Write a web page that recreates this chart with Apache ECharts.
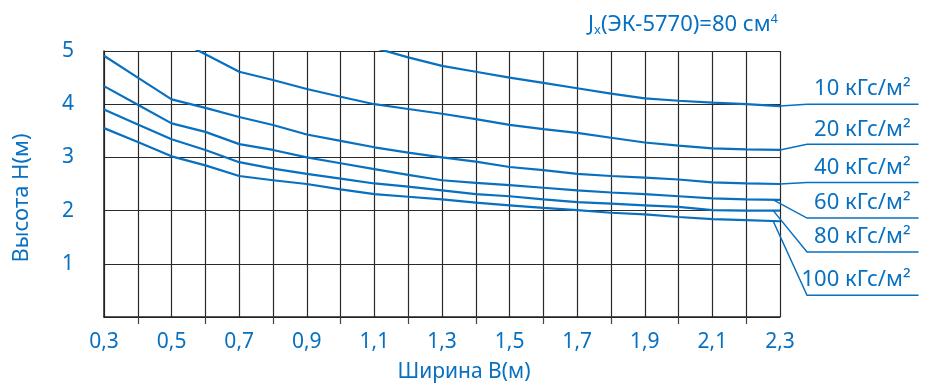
<!DOCTYPE html>
<html>
<head>
<meta charset="utf-8">
<script src="https://cdn.jsdelivr.net/npm/echarts@6/dist/echarts.min.js"></script>
<style>
  html, body { margin: 0; padding: 0; background: #fff; }
  #chart { width: 927px; height: 385px; }
</style>
</head>
<body>
<div id="chart"></div>
<script type="application/javascript">
// ширина B (м)
const widths = [0.3, 0.4, 0.5, 0.6, 0.7, 0.8, 0.9, 1.0, 1.1, 1.2, 1.3, 1.4, 1.5, 1.6, 1.7, 1.8, 1.9, 2.0, 2.1, 2.2, 2.3];
// высота H (м) для каждой нагрузки
const h10  = [null, null, null, null, null, null, null, null, 5.06, 4.88, 4.72, 4.61, 4.50, 4.40, 4.30, 4.20, 4.11, 4.065, 4.03, 4.00, 3.965];
const h20  = [null, null, 5.26, 4.94, 4.61, 4.455, 4.285, 4.14, 4.00, 3.91, 3.82, 3.72, 3.61, 3.53, 3.46, 3.37, 3.28, 3.22, 3.17, 3.15, 3.14];
const h40  = [4.91, 4.50, 4.09, 3.93, 3.76, 3.61, 3.43, 3.31, 3.19, 3.09, 3.00, 2.92, 2.82, 2.76, 2.69, 2.65, 2.62, 2.585, 2.53, 2.51, 2.50];
const h60  = [4.34, 3.99, 3.64, 3.48, 3.25, 3.14, 3.00, 2.89, 2.78, 2.67, 2.57, 2.52, 2.48, 2.43, 2.38, 2.34, 2.31, 2.27, 2.23, 2.21, 2.20];
const h80  = [3.90, 3.62, 3.34, 3.14, 2.91, 2.79, 2.69, 2.60, 2.51, 2.45, 2.38, 2.31, 2.27, 2.21, 2.16, 2.13, 2.10, 2.07, 2.01, 2.00, 2.00];
const h100 = [3.55, 3.29, 3.02, 2.85, 2.65, 2.57, 2.50, 2.40, 2.31, 2.26, 2.21, 2.15, 2.10, 2.05, 2.01, 1.96, 1.93, 1.88, 1.84, 1.82, 1.80];

const loadNames = ['10 кГс/м²', '20 кГс/м²', '40 кГс/м²', '60 кГс/м²', '80 кГс/м²', '100 кГс/м²'];
const curves = [h10, h20, h40, h60, h80, h100];

// выноски: откуда выходит линия и где полка с подписью (в единицах осей)
const leaderFromX = [2.3, 2.3, 2.3, 2.28, 2.28, 2.28];
const shelfY = [4.0, 3.245, 2.53, 1.86, 1.22, 0.41];
const shelfX0 = 2.38;
const shelfX1 = 2.71;

const xLabelValues = [0.3, 0.5, 0.7, 0.9, 1.1, 1.3, 1.5, 1.7, 1.9, 2.1, 2.3];
const xTickValues = [0.4, 0.6, 0.8, 1.0, 1.2, 1.4, 1.6, 1.8, 2.0, 2.2];

const BLUE = '#0870c0';
const FONT = '"Noto Sans", sans-serif';

const chart = echarts.init(document.getElementById('chart'));

function curveSerie(name, values) {
  return {
    name,
    type: 'line',
    xAxisIndex: 0,
    symbol: 'none',
    data: widths.map((w, i) => [w, values[i]]),
    lineStyle: { color: BLUE, width: 2.2 },
    z: 5
  };
}

const option = {
  animation: false,
  grid: { left: 104, right: 147, top: 51, bottom: 68 },
  xAxis: [
    {
      type: 'value',
      min: 0.3,
      max: 2.3,
      interval: 0.1,
      axisLine: { show: true, lineStyle: { color: '#222', width: 1.5 } },
      axisTick: { show: false },
      axisLabel: { show: false },
      splitLine: { show: true, lineStyle: { color: '#2a2a2a', width: 1.2 } }
    },
    {
      type: 'value',
      min: 0.3,
      max: 2.3,
      position: 'bottom',
      axisLine: { show: false },
      axisTick: { show: true, length: 7, customValues: xTickValues, lineStyle: { color: '#444', width: 1.2 } },
      axisLabel: {
        show: true,
        customValues: xLabelValues,
        margin: 15,
        color: BLUE,
        fontFamily: FONT,
        fontSize: 21,
        formatter: v => v.toFixed(1).replace('.', ',')
      },
      splitLine: { show: false }
    }
  ],
  yAxis: {
    type: 'value',
    min: 0,
    max: 5,
    interval: 1,
    axisLine: { show: true, lineStyle: { color: '#222', width: 1.5 } },
    axisTick: { show: false },
    axisLabel: {
      margin: 30,
      padding: [6, 0, 0, 0],
      color: BLUE,
      fontFamily: FONT,
      fontSize: 21,
      formatter: v => (v === 0 ? '' : String(v))
    },
    splitLine: { show: true, lineStyle: { color: '#2a2a2a', width: 1.2 } }
  },
  series: curves.map((c, i) => curveSerie(loadNames[i], c))
};

chart.setOption(option);

// подписи осей, заголовок и выноски
const graphics = [
  {
    type: 'text',
    x: 22,
    y: 198,
    rotation: Math.PI / 2,
    style: {
      text: 'Высота Н(м)',
      fill: BLUE,
      font: '22px ' + FONT,
      align: 'center',
      verticalAlign: 'middle'
    }
  },
  {
    type: 'text',
    x: 464,
    y: 372,
    style: {
      text: 'Ширина В(м)',
      fill: BLUE,
      font: '21px ' + FONT,
      align: 'center',
      verticalAlign: 'middle'
    }
  },
  {
    type: 'text',
    x: 778,
    y: 25,
    style: {
      text: '{a|J}{sub|x}{a|(ЭК-5770)=80 см}{sup|4}',
      align: 'right',
      verticalAlign: 'middle',
      rich: {
        a: { fill: BLUE, fontFamily: FONT, fontSize: 22 },
        sub: { fill: BLUE, fontFamily: FONT, fontSize: 13, padding: [11, 0, 0, 0] },
        sup: { fill: BLUE, fontFamily: FONT, fontSize: 13, padding: [0, 0, 11, 0] }
      }
    }
  }
];

curves.forEach((vals, i) => {
  const toPx = p => chart.convertToPixel({ xAxisIndex: 0, yAxisIndex: 0 }, p);
  const a = toPx([leaderFromX[i], vals[vals.length - 1]]);
  const b = toPx([shelfX0, shelfY[i]]);
  const c = toPx([shelfX1, shelfY[i]]);
  graphics.push({
    type: 'polyline',
    shape: { points: [a, b, c] },
    style: { stroke: BLUE, lineWidth: 1.5, fill: null },
    z: 10
  });
  graphics.push({
    type: 'text',
    x: c[0] - 8,
    y: c[1] - 4,
    style: {
      text: loadNames[i],
      fill: BLUE,
      font: '22px ' + FONT,
      align: 'right',
      verticalAlign: 'bottom'
    },
    z: 10
  });
});

chart.setOption({ graphic: graphics });
</script>
</body>
</html>
